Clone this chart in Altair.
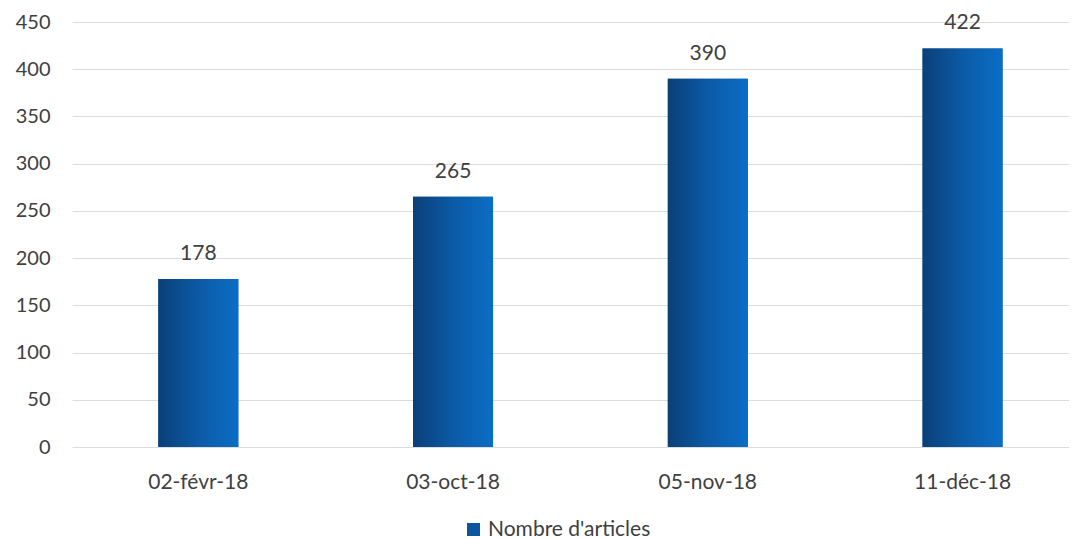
import altair as alt
import pandas as pd

dates = ["02-févr-18", "03-oct-18", "05-nov-18", "11-déc-18"]
counts = [178, 265, 390, 422]
series = ["Nombre d'articles"] * 4

df = pd.DataFrame({"date": dates, "n": counts, "serie": series})

FONT = "Lato"

grad = alt.Gradient(
    gradient="linear",
    x1=0, x2=1, y1=0, y2=0,
    stops=[
        alt.GradientStop(color="#0b3f78", offset=0),
        alt.GradientStop(color="#0c5aa6", offset=0.5),
        alt.GradientStop(color="#0a6ec6", offset=1),
    ],
)

xenc = alt.X(
    "date:N", sort=dates, title=None,
    scale=alt.Scale(paddingInner=0.686, paddingOuter=0.2999, align=0.565),
    axis=alt.Axis(labelAngle=0, ticks=False, domain=False, labelFontSize=21,
                  labelColor="#404040", labelFont=FONT, labelPadding=24),
)
yenc = alt.Y(
    "n:Q", title=None,
    scale=alt.Scale(domain=[0, 450]),
    axis=alt.Axis(values=list(range(0, 451, 50)), ticks=False, domain=False,
                  gridColor="#dcdcdc", gridWidth=1, labelFontSize=20,
                  labelColor="#404040", labelFont=FONT, labelPadding=22),
)

legend_layer = alt.Chart(df).mark_bar().encode(
    x=xenc, y=yenc,
    color=alt.Color("serie:N", title=None,
                    scale=alt.Scale(range=["#0c56a0"]),
                    legend=alt.Legend(orient="none", legendX=391, legendY=497,
                                      symbolType="square", symbolSize=169,
                                      labelFontSize=21, labelFont=FONT,
                                      labelLimit=500,
                                      labelColor="#404040", symbolStrokeWidth=0)),
)

bars = alt.Chart(df).mark_bar(fill=grad).encode(x=xenc, y=yenc)

labels = alt.Chart(df).mark_text(
    baseline="middle", dy=-25, fontSize=21, font=FONT, color="#404040"
).encode(x=xenc, y=yenc, text="n:Q")

chart = (legend_layer + bars + labels).properties(
    width=997, height=425,
    autosize=alt.AutoSizeParams(type="none"),
    padding={"left": 64, "top": 14, "right": 0, "bottom": 92},
    background="white",
).configure_view(stroke=None)

chart.save("out.html", embed_options={"renderer": "svg", "actions": False})
